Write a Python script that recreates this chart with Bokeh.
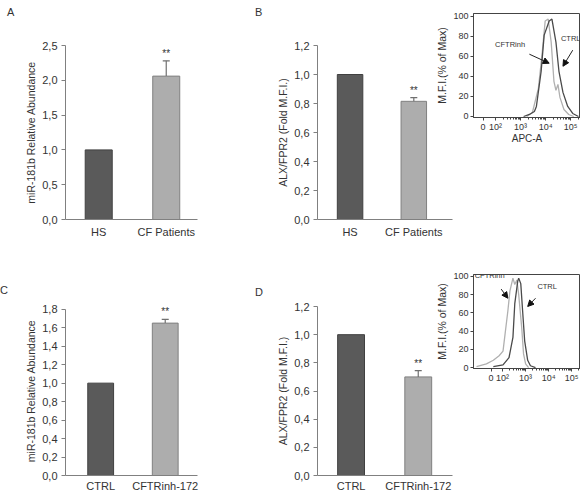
import math
from bokeh.plotting import figure
from bokeh.models import (Range1d, FixedTicker, Label, Arrow, NormalHead, Div,
                          ColumnDataSource, CustomJSTickFormatter, GridBox)
from bokeh.embed import file_html
from bokeh.resources import INLINE
from bokeh.core.properties import value

FONT = "Liberation Sans"
TXT = "#333333"

# ---------------- data ----------------
a_cats = ["HS", "CF Patients"]
a_vals = [1.0, 2.06]
a_errs = [0.0, 0.22]
a_sig = ["", "**"]
a_ticks = [0.0, 0.5, 1.0, 1.5, 2.0, 2.5]

b_cats = ["HS", "CF Patients"]
b_vals = [1.0, 0.815]
b_errs = [0.0, 0.025]
b_sig = ["", "**"]
b_ticks = [0.0, 0.2, 0.4, 0.6, 0.8, 1.0, 1.2]

c_cats = ["CTRL", "CFTRinh-172"]
c_vals = [1.0, 1.65]
c_errs = [0.0, 0.04]
c_sig = ["", "**"]
c_ticks = [0.0, 0.2, 0.4, 0.6, 0.8, 1.0, 1.2, 1.4, 1.6, 1.8]

d_cats = ["CTRL", "CFTRinh-172"]
d_vals = [1.0, 0.70]
d_errs = [0.0, 0.045]
d_sig = ["", "**"]
d_ticks = [0.0, 0.2, 0.4, 0.6, 0.8, 1.0, 1.2]

# flow-cytometry histograms (x = log10 fluorescence, y = % of max)
hist_ticks = [1.5, 2.0, 3.0, 4.0, 5.0]
hist_tick_labels = ["0", "10²", "10³", "10⁴", "10⁵"]
hist_yticks = [0, 20, 40, 60, 80, 100]

b_ctrl_x = [3.12, 3.35, 3.55, 3.63, 3.82, 3.94, 4.14, 4.25, 4.41, 4.53, 4.69, 4.88, 5.08, 5.31]
b_ctrl_y = [0, 2, 5, 10, 45, 81, 95, 97, 74, 45, 24, 10, 3, 0]
b_inh_x = [3.24, 3.47, 3.71, 3.86, 3.98, 4.10, 4.22, 4.33, 4.41, 4.49, 4.57, 4.73, 4.92, 5.12]
b_inh_y = [0, 4, 28, 63, 95, 97, 74, 35, 26, 32, 19, 7, 2, 0]

d_ctrl_x = [1.60, 2.02, 2.28, 2.45, 2.53, 2.66, 2.70, 2.79, 2.87, 2.96, 3.09, 3.21, 3.43]
d_ctrl_y = [1, 3, 11, 33, 70, 95, 98, 92, 62, 29, 8, 2, 0]
d_inh_x = [0.87, 1.30, 1.60, 1.85, 2.02, 2.11, 2.23, 2.32, 2.45, 2.53, 2.62, 2.70, 2.83, 2.91, 3.00, 3.13]
d_inh_y = [1, 4, 8, 13, 18, 37, 62, 84, 98, 91, 96, 80, 44, 15, 4, 0]

DARK_FILL, DARK_LINE = "#5a5a5a", "#404040"
LIGHT_FILL, LIGHT_LINE = "#adadad", "#808080"

comma_fmt = CustomJSTickFormatter(code="return tick.toFixed(1).replace('.', ',');")


def bar_panel(cats, vals, errs, sig, ticks, ylabel, ymax, ytop, xr, w, h, bl, br, bt, bb,
              lab_standoff):
    p = figure(width=w, height=h, x_range=Range1d(*xr), y_range=Range1d(0, ytop),
               output_backend="svg", toolbar_location=None, title=None,
               title_location=None,
               min_border_left=bl, min_border_right=br, min_border_top=bt,
               min_border_bottom=bb)
    p.grid.visible = False
    p.outline_line_color = None
    xs = list(range(len(cats)))
    src = ColumnDataSource(dict(x=xs, top=vals,
                                fill=[DARK_FILL, LIGHT_FILL],
                                line=[DARK_LINE, LIGHT_LINE]))
    p.vbar(x="x", top="top", bottom=0, width=0.4, fill_color="fill",
           line_color="line", line_width=1, source=src)
    tops = [v + e for v, e in zip(vals, errs)]
    ex = [x for x, e in zip(xs, errs) if e > 0]
    eb = [v for v, e in zip(vals, errs) if e > 0]
    et = [t for t, e in zip(tops, errs) if e > 0]
    p.segment(x0=ex, y0=eb, x1=ex, y1=et, line_color="#707070", line_width=1.2)
    p.scatter(x=ex, y=et, marker="dash", size=7, line_color="#707070", line_width=1.2)
    p.text(x=xs, y=tops, text=sig, text_font=value(FONT), text_font_size="10px",
           text_color=TXT, text_align="center", text_baseline="bottom", y_offset=-2)

    p.xaxis.ticker = FixedTicker(ticks=xs)
    p.xaxis.major_label_overrides = {i: c for i, c in enumerate(cats)}
    p.xaxis.major_tick_out = 0
    p.xaxis.major_tick_in = 0
    p.xaxis.minor_tick_out = 0
    p.xaxis.axis_line_color = "#808080"
    p.xaxis.major_label_standoff = lab_standoff

    p.yaxis.ticker = FixedTicker(ticks=ticks)
    p.yaxis.bounds = (0, ymax)
    p.yaxis.formatter = comma_fmt
    p.yaxis.major_tick_out = 4
    p.yaxis.major_tick_in = 0
    p.yaxis.minor_tick_out = 0
    p.yaxis.minor_tick_in = 0
    p.yaxis.axis_line_color = "#808080"
    p.yaxis.major_tick_line_color = "#808080"
    p.yaxis.major_label_standoff = 4
    p.yaxis.axis_label = ylabel
    p.yaxis.axis_label_standoff = 2
    p.yaxis.axis_label_text_font_style = "normal"
    p.yaxis.axis_label_text_font_size = "10.5px"
    p.yaxis.axis_label_text_font = FONT
    p.yaxis.axis_label_text_color = TXT
    for ax in (p.xaxis, p.yaxis):
        ax.major_label_text_font = FONT
        ax.major_label_text_font_size = "11px"
        ax.major_label_text_color = TXT
    return p


def hist_panel(ctrl_x, ctrl_y, inh_x, inh_y, xr, yr, w, h, bl, br, bt, bb, xlabel,
               annots, arrows):
    p = figure(width=w, height=h, x_range=Range1d(*xr),
               y_range=Range1d(*yr), output_backend="svg", toolbar_location=None,
               title=None, title_location=None,
               min_border_left=bl, min_border_right=br, min_border_top=bt,
               min_border_bottom=bb,
               styles={"position": "relative", "top": "-32px"})
    p.border_fill_alpha = 0
    p.grid.visible = False
    p.outline_line_color = "#444444"
    p.outline_line_width = 1
    p.line(inh_x, inh_y, line_color="#b0b0b0", line_width=1.3)
    p.line(ctrl_x, ctrl_y, line_color="#4a4a4a", line_width=1.3)

    minor = [n + math.log10(k) for n in range(2, 6) for k in range(2, 10)]
    p.xaxis.ticker = FixedTicker(ticks=hist_ticks, minor_ticks=minor)
    p.xaxis.major_label_overrides = dict(zip(hist_ticks, hist_tick_labels))
    p.xaxis.major_tick_out = 3
    p.xaxis.major_tick_in = 0
    p.xaxis.minor_tick_out = 2
    p.xaxis.minor_tick_in = 0
    p.xaxis.major_label_standoff = 1
    if xlabel:
        p.xaxis.axis_label = xlabel
        p.xaxis.axis_label_standoff = -2
        p.xaxis.axis_label_text_font_style = "normal"
        p.xaxis.axis_label_text_font_size = "10px"
        p.xaxis.axis_label_text_font = FONT
        p.xaxis.axis_label_text_color = TXT

    p.yaxis.ticker = FixedTicker(ticks=hist_yticks)
    p.yaxis.major_tick_out = 3
    p.yaxis.major_tick_in = 0
    p.yaxis.minor_tick_out = 0
    p.yaxis.minor_tick_in = 0
    p.yaxis.major_label_standoff = 2
    p.yaxis.axis_label = "M.F.I.(% of Max)"
    p.yaxis.axis_label_standoff = 2
    p.yaxis.axis_label_text_font_style = "normal"
    p.yaxis.axis_label_text_font_size = "10.5px"
    p.yaxis.axis_label_text_font = FONT
    p.yaxis.axis_label_text_color = TXT
    for ax in (p.xaxis, p.yaxis):
        ax.axis_line_color = "#444444"
        ax.major_tick_line_color = "#444444"
        ax.minor_tick_line_color = "#444444"
        ax.major_label_text_font = FONT
        ax.major_label_text_font_size = "9px"
        ax.major_label_text_color = TXT
    for (tx, ty, t) in annots:
        p.add_layout(Label(x=tx, y=ty, text=t, text_font=FONT, text_font_size="7.5px",
                           text_color=TXT, text_baseline="middle", text_align="left"))
    for (x0, y0, x1, y1) in arrows:
        p.add_layout(Arrow(x_start=x0, y_start=y0, x_end=x1, y_end=y1,
                           line_color="#222222", line_width=1,
                           end=NormalHead(size=6, fill_color="#111111",
                                          line_color="#111111")))
    return p


def letter(t, top, left):
    return Div(text=t, margin=(top, 0, 0, left),
               styles={"font-family": FONT, "font-size": "11px", "color": TXT,
                       "line-height": "12px"})


pA = bar_panel(a_cats, a_vals, a_errs, a_sig, a_ticks, "miR-181b Relative Abundance",
               2.5, 2.5, (-0.492, 1.463), 250, 249, 65, 53, 43, 25, 6)
pB = bar_panel(b_cats, b_vals, b_errs, b_sig, b_ticks, "ALX/FPR2 (Fold M.F.I.)",
               1.2, 1.2, (-0.511, 1.607), 207, 249, 64, 5, 45, 25, 6)
pC = bar_panel(c_cats, c_vals, c_errs, c_sig, c_ticks, "miR-181b Relative Abundance",
               1.8, 1.83, (-0.545, 1.5), 250, 245, 62, 53, 54, 14, 4)
pD = bar_panel(d_cats, d_vals, d_errs, d_sig, d_ticks, "ALX/FPR2 (Fold M.F.I.)",
               1.2, 1.2, (-0.5, 1.51), 207, 245, 67, 0, 57, 14, 4)

hB = hist_panel(b_ctrl_x, b_ctrl_y, b_inh_x, b_inh_y, (1.12, 5.39), (-1, 102.5),
                147, 179, 40, 0, 11, 30, "APC-A",
                [(1.98, 72, "CFTRinh"), (4.61, 78, "CTRL")],
                [(3.35, 62, 4.14, 53), (5.08, 66, 4.69, 50)])
hD = hist_panel(d_ctrl_x, d_ctrl_y, d_inh_x, d_inh_y, (0.74, 5.38), (-1, 102),
                147, 170, 40, 0, 35, 18, None,
                [(0.79, 101, "CFTRinh"), (3.51, 89, "CTRL")],
                [(1.94, 86, 2.23, 76), (3.43, 76, 3.09, 67)])

layout = GridBox(children=[(pA, 0, 0, 1, 1), (pB, 0, 1, 1, 2), (hB, 0, 2, 1, 2),
                           (pC, 1, 0, 1, 1), (pD, 1, 1, 1, 2), (hD, 1, 2, 1, 2),
                           (letter("A", 6, 7), 0, 0, 1, 1),
                           (letter("B", 6, 5), 0, 1, 1, 1),
                           (letter("C", 35, 0), 1, 0, 1, 1),
                           (letter("D", 37, 5), 1, 1, 1, 1)],
                 cols=["250px", "183px", "24px", "123px"], rows=["249px", "245px"])

with open("out.html", "w") as f:
    f.write(file_html(layout, INLINE))
